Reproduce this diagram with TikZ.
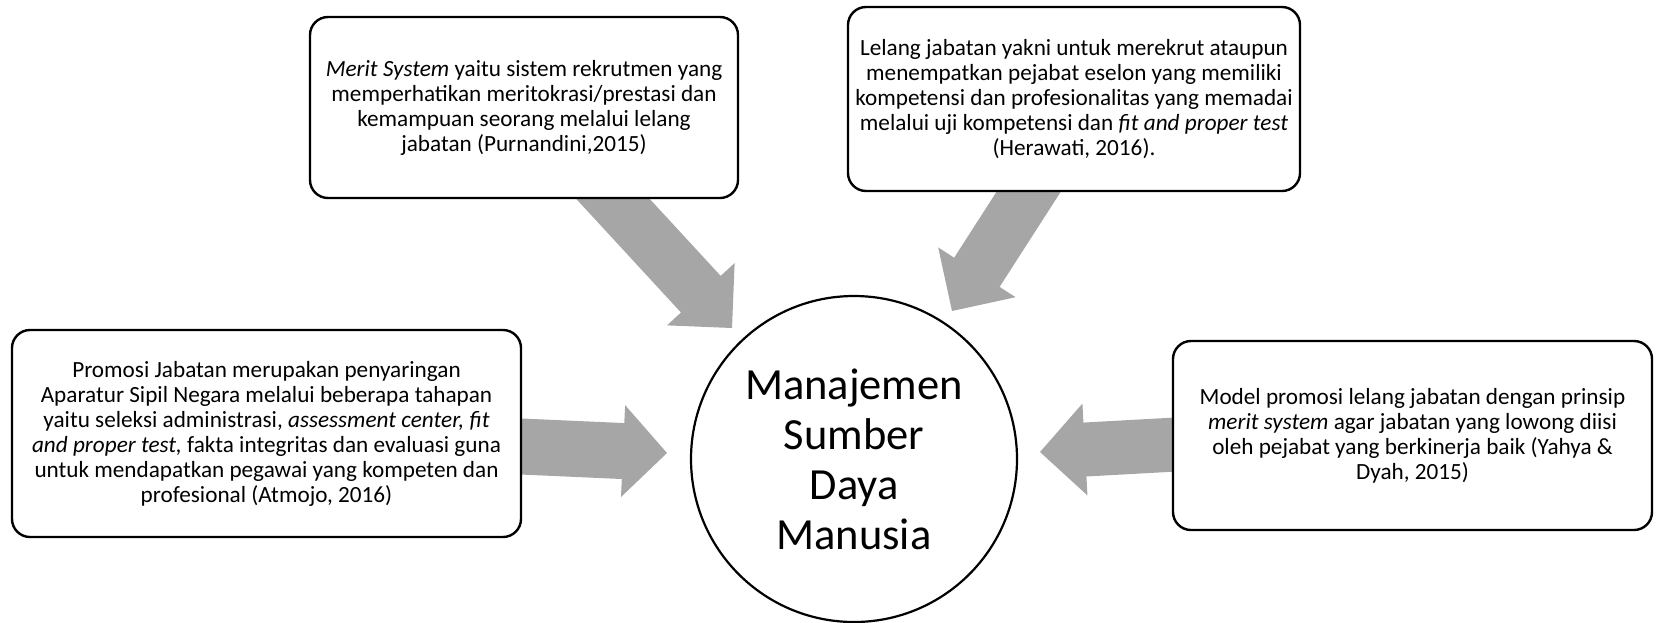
\documentclass[tikz,border=0pt]{standalone}
\usepackage{fontspec}
\setmainfont{Carlito}
\usetikzlibrary{calc}
\definecolor{arrowgray}{HTML}{A6A6A6}
\tikzset{
  infobox/.style={draw=black, line width=2.4pt, rounded corners=18pt, fill=white,
    align=center, font=\fontsize{23.2}{25}\selectfont, inner sep=0pt},
  hub/.style={draw=black, line width=2.2pt, circle, fill=white, align=center,
    font=\fontsize{44.5}{50}\selectfont, minimum size=326pt, inner sep=0pt},
  blockfill/.style={fill=arrowgray, draw=none}
}
% #1 start, #2 tip, #3 body half width, #4 head half width, #5 head length
\newcommand{\blockarrow}[5]{%
  \coordinate (ba-h) at ($(#2)!#5!(#1)$);
  \fill[blockfill] ($(#1)!#3!90:(#2)$) -- ($(ba-h)!#3!90:(#2)$) -- ($(ba-h)!#4!90:(#2)$)
    -- (#2) -- ($(ba-h)!#4!-90:(#2)$) -- ($(ba-h)!#3!-90:(#2)$) -- ($(#1)!#3!-90:(#2)$) -- cycle;
}
\begin{document}
\begin{tikzpicture}[x=1pt,y=-1pt]
\useasboundingbox (0,0) rectangle (1656,622);

% arrow end points
\coordinate (tlA) at (590,174);
\coordinate (tlB) at (732,328);
\coordinate (trA) at (1042,171);
\coordinate (trB) at (952,311);
\coordinate (lA) at (510,446);
\coordinate (lB) at (667,453);
\coordinate (rA) at (1185,444);
\coordinate (rB) at (1040,452);

\blockarrow{tlA}{tlB}{27pt}{46pt}{46pt}
\blockarrow{trA}{trB}{27pt}{46pt}{46pt}
\blockarrow{lA}{lB}{28pt}{46pt}{44pt}
\blockarrow{rA}{rB}{27pt}{46pt}{45pt}

\node[infobox, minimum width=428pt, minimum height=181pt] (merit) at (524,107.5)
  {\textit{Merit System} yaitu sistem rekrutmen yang\\
   memperhatikan meritokrasi/prestasi dan\\
   kemampuan seorang melalui lelang\\
   jabatan (Purnandini,2015)};

\node[infobox, minimum width=452pt, minimum height=184pt] (lelang) at (1074,99)
  {Lelang jabatan yakni untuk merekrut ataupun\\
   menempatkan pejabat eselon yang memiliki\\
   kompetensi dan profesionalitas yang memadai\\
   melalui uji kompetensi dan \textit{fit and proper test}\\
   (Herawati, 2016).};

\node[infobox, minimum width=509pt, minimum height=207pt] (promosi) at (266.5,433.5)
  {Promosi Jabatan merupakan penyaringan\\
   Aparatur Sipil Negara melalui beberapa tahapan\\
   yaitu seleksi administrasi, \textit{assessment center, fit}\\
   \textit{and proper test,} fakta integritas dan evaluasi guna\\
   untuk mendapatkan pegawai yang kompeten dan\\
   profesional (Atmojo, 2016)};

\node[infobox, minimum width=479pt, minimum height=189pt] (model) at (1412.5,435.5)
  {Model promosi lelang jabatan dengan prinsip\\
   \textit{merit system} agar jabatan yang lowong diisi\\
   oleh pejabat yang berkinerja baik (Yahya \&\\
   Dyah, 2015)};

\node[hub] (msdm) at (854,459) {Manajemen\\Sumber\\Daya\\Manusia};
\end{tikzpicture}
\end{document}
